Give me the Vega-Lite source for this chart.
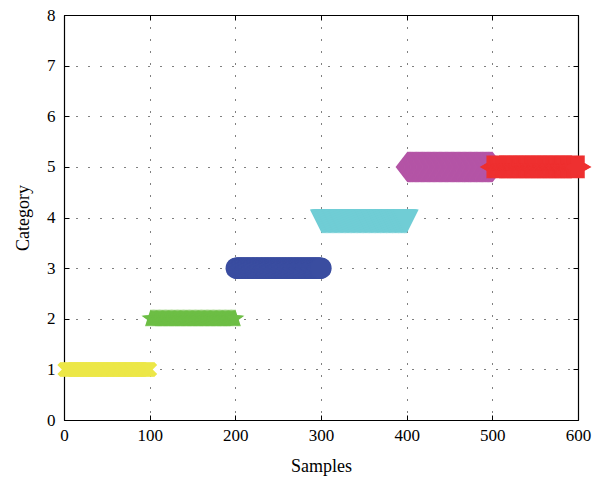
{
  "$schema": "https://vega.github.io/schema/vega-lite/v6.json",
  "width": 514,
  "height": 405,
  "autosize": {"type": "none"},
  "padding": {"left": 64, "top": 15, "right": 29, "bottom": 62},
  "background": "white",
  "config": {
    "font": "Liberation Serif",
    "view": {"stroke": null},
    "axis": {
      "labelFont": "Liberation Serif",
      "labelFontSize": 17,
      "labelColor": "black",
      "titleFont": "Liberation Serif",
      "titleFontSize": 18,
      "titleFontWeight": "normal",
      "titleColor": "black",
      "domainColor": "black",
      "domainWidth": 1.2,
      "tickColor": "black",
      "tickSize": -5,
      "gridColor": "black",
      "gridOpacity": 1,
      "gridDash": [1, 11],
      "gridWidth": 1
    }
  },
  "data": {
    "values": [
{"s":1,"c":1,"g":"A"},{"s":2,"c":1,"g":"A"},{"s":3,"c":1,"g":"A"},{"s":4,"c":1,"g":"A"},{"s":5,"c":1,"g":"A"},{"s":6,"c":1,"g":"A"},{"s":7,"c":1,"g":"A"},{"s":8,"c":1,"g":"A"},{"s":9,"c":1,"g":"A"},{"s":10,"c":1,"g":"A"},
{"s":11,"c":1,"g":"A"},{"s":12,"c":1,"g":"A"},{"s":13,"c":1,"g":"A"},{"s":14,"c":1,"g":"A"},{"s":15,"c":1,"g":"A"},{"s":16,"c":1,"g":"A"},{"s":17,"c":1,"g":"A"},{"s":18,"c":1,"g":"A"},{"s":19,"c":1,"g":"A"},{"s":20,"c":1,"g":"A"},
{"s":21,"c":1,"g":"A"},{"s":22,"c":1,"g":"A"},{"s":23,"c":1,"g":"A"},{"s":24,"c":1,"g":"A"},{"s":25,"c":1,"g":"A"},{"s":26,"c":1,"g":"A"},{"s":27,"c":1,"g":"A"},{"s":28,"c":1,"g":"A"},{"s":29,"c":1,"g":"A"},{"s":30,"c":1,"g":"A"},
{"s":31,"c":1,"g":"A"},{"s":32,"c":1,"g":"A"},{"s":33,"c":1,"g":"A"},{"s":34,"c":1,"g":"A"},{"s":35,"c":1,"g":"A"},{"s":36,"c":1,"g":"A"},{"s":37,"c":1,"g":"A"},{"s":38,"c":1,"g":"A"},{"s":39,"c":1,"g":"A"},{"s":40,"c":1,"g":"A"},
{"s":41,"c":1,"g":"A"},{"s":42,"c":1,"g":"A"},{"s":43,"c":1,"g":"A"},{"s":44,"c":1,"g":"A"},{"s":45,"c":1,"g":"A"},{"s":46,"c":1,"g":"A"},{"s":47,"c":1,"g":"A"},{"s":48,"c":1,"g":"A"},{"s":49,"c":1,"g":"A"},{"s":50,"c":1,"g":"A"},
{"s":51,"c":1,"g":"A"},{"s":52,"c":1,"g":"A"},{"s":53,"c":1,"g":"A"},{"s":54,"c":1,"g":"A"},{"s":55,"c":1,"g":"A"},{"s":56,"c":1,"g":"A"},{"s":57,"c":1,"g":"A"},{"s":58,"c":1,"g":"A"},{"s":59,"c":1,"g":"A"},{"s":60,"c":1,"g":"A"},
{"s":61,"c":1,"g":"A"},{"s":62,"c":1,"g":"A"},{"s":63,"c":1,"g":"A"},{"s":64,"c":1,"g":"A"},{"s":65,"c":1,"g":"A"},{"s":66,"c":1,"g":"A"},{"s":67,"c":1,"g":"A"},{"s":68,"c":1,"g":"A"},{"s":69,"c":1,"g":"A"},{"s":70,"c":1,"g":"A"},
{"s":71,"c":1,"g":"A"},{"s":72,"c":1,"g":"A"},{"s":73,"c":1,"g":"A"},{"s":74,"c":1,"g":"A"},{"s":75,"c":1,"g":"A"},{"s":76,"c":1,"g":"A"},{"s":77,"c":1,"g":"A"},{"s":78,"c":1,"g":"A"},{"s":79,"c":1,"g":"A"},{"s":80,"c":1,"g":"A"},
{"s":81,"c":1,"g":"A"},{"s":82,"c":1,"g":"A"},{"s":83,"c":1,"g":"A"},{"s":84,"c":1,"g":"A"},{"s":85,"c":1,"g":"A"},{"s":86,"c":1,"g":"A"},{"s":87,"c":1,"g":"A"},{"s":88,"c":1,"g":"A"},{"s":89,"c":1,"g":"A"},{"s":90,"c":1,"g":"A"},
{"s":91,"c":1,"g":"A"},{"s":92,"c":1,"g":"A"},{"s":93,"c":1,"g":"A"},{"s":94,"c":1,"g":"A"},{"s":95,"c":1,"g":"A"},{"s":96,"c":1,"g":"A"},{"s":97,"c":1,"g":"A"},{"s":98,"c":1,"g":"A"},{"s":99,"c":1,"g":"A"},{"s":100,"c":1,"g":"A"},
{"s":101,"c":2,"g":"B"},{"s":102,"c":2,"g":"B"},{"s":103,"c":2,"g":"B"},{"s":104,"c":2,"g":"B"},{"s":105,"c":2,"g":"B"},{"s":106,"c":2,"g":"B"},{"s":107,"c":2,"g":"B"},{"s":108,"c":2,"g":"B"},{"s":109,"c":2,"g":"B"},{"s":110,"c":2,"g":"B"},
{"s":111,"c":2,"g":"B"},{"s":112,"c":2,"g":"B"},{"s":113,"c":2,"g":"B"},{"s":114,"c":2,"g":"B"},{"s":115,"c":2,"g":"B"},{"s":116,"c":2,"g":"B"},{"s":117,"c":2,"g":"B"},{"s":118,"c":2,"g":"B"},{"s":119,"c":2,"g":"B"},{"s":120,"c":2,"g":"B"},
{"s":121,"c":2,"g":"B"},{"s":122,"c":2,"g":"B"},{"s":123,"c":2,"g":"B"},{"s":124,"c":2,"g":"B"},{"s":125,"c":2,"g":"B"},{"s":126,"c":2,"g":"B"},{"s":127,"c":2,"g":"B"},{"s":128,"c":2,"g":"B"},{"s":129,"c":2,"g":"B"},{"s":130,"c":2,"g":"B"},
{"s":131,"c":2,"g":"B"},{"s":132,"c":2,"g":"B"},{"s":133,"c":2,"g":"B"},{"s":134,"c":2,"g":"B"},{"s":135,"c":2,"g":"B"},{"s":136,"c":2,"g":"B"},{"s":137,"c":2,"g":"B"},{"s":138,"c":2,"g":"B"},{"s":139,"c":2,"g":"B"},{"s":140,"c":2,"g":"B"},
{"s":141,"c":2,"g":"B"},{"s":142,"c":2,"g":"B"},{"s":143,"c":2,"g":"B"},{"s":144,"c":2,"g":"B"},{"s":145,"c":2,"g":"B"},{"s":146,"c":2,"g":"B"},{"s":147,"c":2,"g":"B"},{"s":148,"c":2,"g":"B"},{"s":149,"c":2,"g":"B"},{"s":150,"c":2,"g":"B"},
{"s":151,"c":2,"g":"B"},{"s":152,"c":2,"g":"B"},{"s":153,"c":2,"g":"B"},{"s":154,"c":2,"g":"B"},{"s":155,"c":2,"g":"B"},{"s":156,"c":2,"g":"B"},{"s":157,"c":2,"g":"B"},{"s":158,"c":2,"g":"B"},{"s":159,"c":2,"g":"B"},{"s":160,"c":2,"g":"B"},
{"s":161,"c":2,"g":"B"},{"s":162,"c":2,"g":"B"},{"s":163,"c":2,"g":"B"},{"s":164,"c":2,"g":"B"},{"s":165,"c":2,"g":"B"},{"s":166,"c":2,"g":"B"},{"s":167,"c":2,"g":"B"},{"s":168,"c":2,"g":"B"},{"s":169,"c":2,"g":"B"},{"s":170,"c":2,"g":"B"},
{"s":171,"c":2,"g":"B"},{"s":172,"c":2,"g":"B"},{"s":173,"c":2,"g":"B"},{"s":174,"c":2,"g":"B"},{"s":175,"c":2,"g":"B"},{"s":176,"c":2,"g":"B"},{"s":177,"c":2,"g":"B"},{"s":178,"c":2,"g":"B"},{"s":179,"c":2,"g":"B"},{"s":180,"c":2,"g":"B"},
{"s":181,"c":2,"g":"B"},{"s":182,"c":2,"g":"B"},{"s":183,"c":2,"g":"B"},{"s":184,"c":2,"g":"B"},{"s":185,"c":2,"g":"B"},{"s":186,"c":2,"g":"B"},{"s":187,"c":2,"g":"B"},{"s":188,"c":2,"g":"B"},{"s":189,"c":2,"g":"B"},{"s":190,"c":2,"g":"B"},
{"s":191,"c":2,"g":"B"},{"s":192,"c":2,"g":"B"},{"s":193,"c":2,"g":"B"},{"s":194,"c":2,"g":"B"},{"s":195,"c":2,"g":"B"},{"s":196,"c":2,"g":"B"},{"s":197,"c":2,"g":"B"},{"s":198,"c":2,"g":"B"},{"s":199,"c":2,"g":"B"},{"s":200,"c":2,"g":"B"},
{"s":201,"c":3,"g":"C"},{"s":202,"c":3,"g":"C"},{"s":203,"c":3,"g":"C"},{"s":204,"c":3,"g":"C"},{"s":205,"c":3,"g":"C"},{"s":206,"c":3,"g":"C"},{"s":207,"c":3,"g":"C"},{"s":208,"c":3,"g":"C"},{"s":209,"c":3,"g":"C"},{"s":210,"c":3,"g":"C"},
{"s":211,"c":3,"g":"C"},{"s":212,"c":3,"g":"C"},{"s":213,"c":3,"g":"C"},{"s":214,"c":3,"g":"C"},{"s":215,"c":3,"g":"C"},{"s":216,"c":3,"g":"C"},{"s":217,"c":3,"g":"C"},{"s":218,"c":3,"g":"C"},{"s":219,"c":3,"g":"C"},{"s":220,"c":3,"g":"C"},
{"s":221,"c":3,"g":"C"},{"s":222,"c":3,"g":"C"},{"s":223,"c":3,"g":"C"},{"s":224,"c":3,"g":"C"},{"s":225,"c":3,"g":"C"},{"s":226,"c":3,"g":"C"},{"s":227,"c":3,"g":"C"},{"s":228,"c":3,"g":"C"},{"s":229,"c":3,"g":"C"},{"s":230,"c":3,"g":"C"},
{"s":231,"c":3,"g":"C"},{"s":232,"c":3,"g":"C"},{"s":233,"c":3,"g":"C"},{"s":234,"c":3,"g":"C"},{"s":235,"c":3,"g":"C"},{"s":236,"c":3,"g":"C"},{"s":237,"c":3,"g":"C"},{"s":238,"c":3,"g":"C"},{"s":239,"c":3,"g":"C"},{"s":240,"c":3,"g":"C"},
{"s":241,"c":3,"g":"C"},{"s":242,"c":3,"g":"C"},{"s":243,"c":3,"g":"C"},{"s":244,"c":3,"g":"C"},{"s":245,"c":3,"g":"C"},{"s":246,"c":3,"g":"C"},{"s":247,"c":3,"g":"C"},{"s":248,"c":3,"g":"C"},{"s":249,"c":3,"g":"C"},{"s":250,"c":3,"g":"C"},
{"s":251,"c":3,"g":"C"},{"s":252,"c":3,"g":"C"},{"s":253,"c":3,"g":"C"},{"s":254,"c":3,"g":"C"},{"s":255,"c":3,"g":"C"},{"s":256,"c":3,"g":"C"},{"s":257,"c":3,"g":"C"},{"s":258,"c":3,"g":"C"},{"s":259,"c":3,"g":"C"},{"s":260,"c":3,"g":"C"},
{"s":261,"c":3,"g":"C"},{"s":262,"c":3,"g":"C"},{"s":263,"c":3,"g":"C"},{"s":264,"c":3,"g":"C"},{"s":265,"c":3,"g":"C"},{"s":266,"c":3,"g":"C"},{"s":267,"c":3,"g":"C"},{"s":268,"c":3,"g":"C"},{"s":269,"c":3,"g":"C"},{"s":270,"c":3,"g":"C"},
{"s":271,"c":3,"g":"C"},{"s":272,"c":3,"g":"C"},{"s":273,"c":3,"g":"C"},{"s":274,"c":3,"g":"C"},{"s":275,"c":3,"g":"C"},{"s":276,"c":3,"g":"C"},{"s":277,"c":3,"g":"C"},{"s":278,"c":3,"g":"C"},{"s":279,"c":3,"g":"C"},{"s":280,"c":3,"g":"C"},
{"s":281,"c":3,"g":"C"},{"s":282,"c":3,"g":"C"},{"s":283,"c":3,"g":"C"},{"s":284,"c":3,"g":"C"},{"s":285,"c":3,"g":"C"},{"s":286,"c":3,"g":"C"},{"s":287,"c":3,"g":"C"},{"s":288,"c":3,"g":"C"},{"s":289,"c":3,"g":"C"},{"s":290,"c":3,"g":"C"},
{"s":291,"c":3,"g":"C"},{"s":292,"c":3,"g":"C"},{"s":293,"c":3,"g":"C"},{"s":294,"c":3,"g":"C"},{"s":295,"c":3,"g":"C"},{"s":296,"c":3,"g":"C"},{"s":297,"c":3,"g":"C"},{"s":298,"c":3,"g":"C"},{"s":299,"c":3,"g":"C"},{"s":300,"c":3,"g":"C"},
{"s":301,"c":4,"g":"D"},{"s":302,"c":4,"g":"D"},{"s":303,"c":4,"g":"D"},{"s":304,"c":4,"g":"D"},{"s":305,"c":4,"g":"D"},{"s":306,"c":4,"g":"D"},{"s":307,"c":4,"g":"D"},{"s":308,"c":4,"g":"D"},{"s":309,"c":4,"g":"D"},{"s":310,"c":4,"g":"D"},
{"s":311,"c":4,"g":"D"},{"s":312,"c":4,"g":"D"},{"s":313,"c":4,"g":"D"},{"s":314,"c":4,"g":"D"},{"s":315,"c":4,"g":"D"},{"s":316,"c":4,"g":"D"},{"s":317,"c":4,"g":"D"},{"s":318,"c":4,"g":"D"},{"s":319,"c":4,"g":"D"},{"s":320,"c":4,"g":"D"},
{"s":321,"c":4,"g":"D"},{"s":322,"c":4,"g":"D"},{"s":323,"c":4,"g":"D"},{"s":324,"c":4,"g":"D"},{"s":325,"c":4,"g":"D"},{"s":326,"c":4,"g":"D"},{"s":327,"c":4,"g":"D"},{"s":328,"c":4,"g":"D"},{"s":329,"c":4,"g":"D"},{"s":330,"c":4,"g":"D"},
{"s":331,"c":4,"g":"D"},{"s":332,"c":4,"g":"D"},{"s":333,"c":4,"g":"D"},{"s":334,"c":4,"g":"D"},{"s":335,"c":4,"g":"D"},{"s":336,"c":4,"g":"D"},{"s":337,"c":4,"g":"D"},{"s":338,"c":4,"g":"D"},{"s":339,"c":4,"g":"D"},{"s":340,"c":4,"g":"D"},
{"s":341,"c":4,"g":"D"},{"s":342,"c":4,"g":"D"},{"s":343,"c":4,"g":"D"},{"s":344,"c":4,"g":"D"},{"s":345,"c":4,"g":"D"},{"s":346,"c":4,"g":"D"},{"s":347,"c":4,"g":"D"},{"s":348,"c":4,"g":"D"},{"s":349,"c":4,"g":"D"},{"s":350,"c":4,"g":"D"},
{"s":351,"c":4,"g":"D"},{"s":352,"c":4,"g":"D"},{"s":353,"c":4,"g":"D"},{"s":354,"c":4,"g":"D"},{"s":355,"c":4,"g":"D"},{"s":356,"c":4,"g":"D"},{"s":357,"c":4,"g":"D"},{"s":358,"c":4,"g":"D"},{"s":359,"c":4,"g":"D"},{"s":360,"c":4,"g":"D"},
{"s":361,"c":4,"g":"D"},{"s":362,"c":4,"g":"D"},{"s":363,"c":4,"g":"D"},{"s":364,"c":4,"g":"D"},{"s":365,"c":4,"g":"D"},{"s":366,"c":4,"g":"D"},{"s":367,"c":4,"g":"D"},{"s":368,"c":4,"g":"D"},{"s":369,"c":4,"g":"D"},{"s":370,"c":4,"g":"D"},
{"s":371,"c":4,"g":"D"},{"s":372,"c":4,"g":"D"},{"s":373,"c":4,"g":"D"},{"s":374,"c":4,"g":"D"},{"s":375,"c":4,"g":"D"},{"s":376,"c":4,"g":"D"},{"s":377,"c":4,"g":"D"},{"s":378,"c":4,"g":"D"},{"s":379,"c":4,"g":"D"},{"s":380,"c":4,"g":"D"},
{"s":381,"c":4,"g":"D"},{"s":382,"c":4,"g":"D"},{"s":383,"c":4,"g":"D"},{"s":384,"c":4,"g":"D"},{"s":385,"c":4,"g":"D"},{"s":386,"c":4,"g":"D"},{"s":387,"c":4,"g":"D"},{"s":388,"c":4,"g":"D"},{"s":389,"c":4,"g":"D"},{"s":390,"c":4,"g":"D"},
{"s":391,"c":4,"g":"D"},{"s":392,"c":4,"g":"D"},{"s":393,"c":4,"g":"D"},{"s":394,"c":4,"g":"D"},{"s":395,"c":4,"g":"D"},{"s":396,"c":4,"g":"D"},{"s":397,"c":4,"g":"D"},{"s":398,"c":4,"g":"D"},{"s":399,"c":4,"g":"D"},{"s":400,"c":4,"g":"D"},
{"s":401,"c":5,"g":"E"},{"s":402,"c":5,"g":"E"},{"s":403,"c":5,"g":"E"},{"s":404,"c":5,"g":"E"},{"s":405,"c":5,"g":"E"},{"s":406,"c":5,"g":"E"},{"s":407,"c":5,"g":"E"},{"s":408,"c":5,"g":"E"},{"s":409,"c":5,"g":"E"},{"s":410,"c":5,"g":"E"},
{"s":411,"c":5,"g":"E"},{"s":412,"c":5,"g":"E"},{"s":413,"c":5,"g":"E"},{"s":414,"c":5,"g":"E"},{"s":415,"c":5,"g":"E"},{"s":416,"c":5,"g":"E"},{"s":417,"c":5,"g":"E"},{"s":418,"c":5,"g":"E"},{"s":419,"c":5,"g":"E"},{"s":420,"c":5,"g":"E"},
{"s":421,"c":5,"g":"E"},{"s":422,"c":5,"g":"E"},{"s":423,"c":5,"g":"E"},{"s":424,"c":5,"g":"E"},{"s":425,"c":5,"g":"E"},{"s":426,"c":5,"g":"E"},{"s":427,"c":5,"g":"E"},{"s":428,"c":5,"g":"E"},{"s":429,"c":5,"g":"E"},{"s":430,"c":5,"g":"E"},
{"s":431,"c":5,"g":"E"},{"s":432,"c":5,"g":"E"},{"s":433,"c":5,"g":"E"},{"s":434,"c":5,"g":"E"},{"s":435,"c":5,"g":"E"},{"s":436,"c":5,"g":"E"},{"s":437,"c":5,"g":"E"},{"s":438,"c":5,"g":"E"},{"s":439,"c":5,"g":"E"},{"s":440,"c":5,"g":"E"},
{"s":441,"c":5,"g":"E"},{"s":442,"c":5,"g":"E"},{"s":443,"c":5,"g":"E"},{"s":444,"c":5,"g":"E"},{"s":445,"c":5,"g":"E"},{"s":446,"c":5,"g":"E"},{"s":447,"c":5,"g":"E"},{"s":448,"c":5,"g":"E"},{"s":449,"c":5,"g":"E"},{"s":450,"c":5,"g":"E"},
{"s":451,"c":5,"g":"E"},{"s":452,"c":5,"g":"E"},{"s":453,"c":5,"g":"E"},{"s":454,"c":5,"g":"E"},{"s":455,"c":5,"g":"E"},{"s":456,"c":5,"g":"E"},{"s":457,"c":5,"g":"E"},{"s":458,"c":5,"g":"E"},{"s":459,"c":5,"g":"E"},{"s":460,"c":5,"g":"E"},
{"s":461,"c":5,"g":"E"},{"s":462,"c":5,"g":"E"},{"s":463,"c":5,"g":"E"},{"s":464,"c":5,"g":"E"},{"s":465,"c":5,"g":"E"},{"s":466,"c":5,"g":"E"},{"s":467,"c":5,"g":"E"},{"s":468,"c":5,"g":"E"},{"s":469,"c":5,"g":"E"},{"s":470,"c":5,"g":"E"},
{"s":471,"c":5,"g":"E"},{"s":472,"c":5,"g":"E"},{"s":473,"c":5,"g":"E"},{"s":474,"c":5,"g":"E"},{"s":475,"c":5,"g":"E"},{"s":476,"c":5,"g":"E"},{"s":477,"c":5,"g":"E"},{"s":478,"c":5,"g":"E"},{"s":479,"c":5,"g":"E"},{"s":480,"c":5,"g":"E"},
{"s":481,"c":5,"g":"E"},{"s":482,"c":5,"g":"E"},{"s":483,"c":5,"g":"E"},{"s":484,"c":5,"g":"E"},{"s":485,"c":5,"g":"E"},{"s":486,"c":5,"g":"E"},{"s":487,"c":5,"g":"E"},{"s":488,"c":5,"g":"E"},{"s":489,"c":5,"g":"E"},{"s":490,"c":5,"g":"E"},
{"s":491,"c":5,"g":"E"},{"s":492,"c":5,"g":"E"},{"s":493,"c":5,"g":"E"},{"s":494,"c":5,"g":"E"},{"s":495,"c":5,"g":"E"},{"s":496,"c":5,"g":"E"},{"s":497,"c":5,"g":"E"},{"s":498,"c":5,"g":"E"},{"s":499,"c":5,"g":"E"},{"s":500,"c":5,"g":"E"},
{"s":501,"c":5,"g":"F"},{"s":502,"c":5,"g":"F"},{"s":503,"c":5,"g":"F"},{"s":504,"c":5,"g":"F"},{"s":505,"c":5,"g":"F"},{"s":506,"c":5,"g":"F"},{"s":507,"c":5,"g":"F"},{"s":508,"c":5,"g":"F"},{"s":509,"c":5,"g":"F"},{"s":510,"c":5,"g":"F"},
{"s":511,"c":5,"g":"F"},{"s":512,"c":5,"g":"F"},{"s":513,"c":5,"g":"F"},{"s":514,"c":5,"g":"F"},{"s":515,"c":5,"g":"F"},{"s":516,"c":5,"g":"F"},{"s":517,"c":5,"g":"F"},{"s":518,"c":5,"g":"F"},{"s":519,"c":5,"g":"F"},{"s":520,"c":5,"g":"F"},
{"s":521,"c":5,"g":"F"},{"s":522,"c":5,"g":"F"},{"s":523,"c":5,"g":"F"},{"s":524,"c":5,"g":"F"},{"s":525,"c":5,"g":"F"},{"s":526,"c":5,"g":"F"},{"s":527,"c":5,"g":"F"},{"s":528,"c":5,"g":"F"},{"s":529,"c":5,"g":"F"},{"s":530,"c":5,"g":"F"},
{"s":531,"c":5,"g":"F"},{"s":532,"c":5,"g":"F"},{"s":533,"c":5,"g":"F"},{"s":534,"c":5,"g":"F"},{"s":535,"c":5,"g":"F"},{"s":536,"c":5,"g":"F"},{"s":537,"c":5,"g":"F"},{"s":538,"c":5,"g":"F"},{"s":539,"c":5,"g":"F"},{"s":540,"c":5,"g":"F"},
{"s":541,"c":5,"g":"F"},{"s":542,"c":5,"g":"F"},{"s":543,"c":5,"g":"F"},{"s":544,"c":5,"g":"F"},{"s":545,"c":5,"g":"F"},{"s":546,"c":5,"g":"F"},{"s":547,"c":5,"g":"F"},{"s":548,"c":5,"g":"F"},{"s":549,"c":5,"g":"F"},{"s":550,"c":5,"g":"F"},
{"s":551,"c":5,"g":"F"},{"s":552,"c":5,"g":"F"},{"s":553,"c":5,"g":"F"},{"s":554,"c":5,"g":"F"},{"s":555,"c":5,"g":"F"},{"s":556,"c":5,"g":"F"},{"s":557,"c":5,"g":"F"},{"s":558,"c":5,"g":"F"},{"s":559,"c":5,"g":"F"},{"s":560,"c":5,"g":"F"},
{"s":561,"c":5,"g":"F"},{"s":562,"c":5,"g":"F"},{"s":563,"c":5,"g":"F"},{"s":564,"c":5,"g":"F"},{"s":565,"c":5,"g":"F"},{"s":566,"c":5,"g":"F"},{"s":567,"c":5,"g":"F"},{"s":568,"c":5,"g":"F"},{"s":569,"c":5,"g":"F"},{"s":570,"c":5,"g":"F"},
{"s":571,"c":5,"g":"F"},{"s":572,"c":5,"g":"F"},{"s":573,"c":5,"g":"F"},{"s":574,"c":5,"g":"F"},{"s":575,"c":5,"g":"F"},{"s":576,"c":5,"g":"F"},{"s":577,"c":5,"g":"F"},{"s":578,"c":5,"g":"F"},{"s":579,"c":5,"g":"F"},{"s":580,"c":5,"g":"F"},
{"s":581,"c":5,"g":"F"},{"s":582,"c":5,"g":"F"},{"s":583,"c":5,"g":"F"},{"s":584,"c":5,"g":"F"},{"s":585,"c":5,"g":"F"},{"s":586,"c":5,"g":"F"},{"s":587,"c":5,"g":"F"},{"s":588,"c":5,"g":"F"},{"s":589,"c":5,"g":"F"},{"s":590,"c":5,"g":"F"},
{"s":591,"c":5,"g":"F"},{"s":592,"c":5,"g":"F"},{"s":593,"c":5,"g":"F"},{"s":594,"c":5,"g":"F"},{"s":595,"c":5,"g":"F"},{"s":596,"c":5,"g":"F"},{"s":597,"c":5,"g":"F"},{"s":598,"c":5,"g":"F"},{"s":599,"c":5,"g":"F"},{"s":600,"c":5,"g":"F"}
    ]
  },
  "encoding": {
    "x": {
      "field": "s", "type": "quantitative",
      "scale": {"domain": [0, 600], "nice": false, "zero": false},
      "axis": {"orient": "bottom", "values": [0,100,200,300,400,500,600], "title": "Samples", "grid": true, "labelPadding": 12, "titlePadding": 14, "labelFlush": false}
    },
    "y": {
      "field": "c", "type": "quantitative",
      "scale": {"domain": [0, 8], "nice": false, "zero": false},
      "axis": {"orient": "left", "values": [0,1,2,3,4,5,6,7,8], "title": "Category", "grid": true, "labelPadding": 14, "titlePadding": 14, "labelFlush": false}
    }
  },
  "layer": [
    {
      "layer": [
        {
          "transform": [{"filter": "datum.g === 'A'"}],
          "mark": {"type": "point", "filled": true, "opacity": 1, "strokeWidth": 0, "clip": false, "color": "#ECE748", "size": 225,
            "shape": "M-1,-0.6L-0.6,-1L0,-0.4L0.6,-1L1,-0.6L0.4,0L1,0.6L0.6,1L0,0.4L-0.6,1L-1,0.6L-0.4,0Z"}
        },
        {
          "transform": [{"filter": "datum.g === 'B'"}],
          "mark": {"type": "point", "filled": true, "opacity": 1, "strokeWidth": 0, "clip": false, "color": "#6DBE45", "size": 361,
            "shape": "M0,-1L0.225,-0.309L0.951,-0.309L0.363,0.118L0.588,0.809L0,0.382L-0.588,0.809L-0.363,0.118L-0.951,-0.309L-0.225,-0.309Z"}
        },
        {
          "transform": [{"filter": "datum.g === 'C'"}],
          "mark": {"type": "point", "filled": true, "opacity": 1, "strokeWidth": 0, "clip": false, "color": "#3A4DA0", "size": 452, "shape": "circle"}
        },
        {
          "transform": [{"filter": "datum.g === 'D'"}],
          "mark": {"type": "point", "filled": true, "opacity": 1, "strokeWidth": 0, "clip": false, "color": "#70CDD5", "size": 576,
            "shape": "M-1,-0.667L1,-0.667L0,1.333Z"}
        },
        {
          "transform": [{"filter": "datum.g === 'E'"}],
          "mark": {"type": "point", "filled": true, "opacity": 1, "strokeWidth": 0, "clip": false, "color": "#B455A6", "size": 961,
            "shape": "M-0.77,0L0,-1L0.77,0L0,1Z"}
        },
        {
          "transform": [{"filter": "datum.g === 'F'"}],
          "mark": {"type": "point", "filled": true, "opacity": 1, "strokeWidth": 0, "clip": false, "color": "#EE3030", "size": 729,
            "shape": "M1,0L0.5,-0.289L0.5,-0.866L0,-0.577L-0.5,-0.866L-0.5,-0.289L-1,0L-0.5,0.289L-0.5,0.866L0,0.577L0.5,0.866L0.5,0.289Z"}
        }
      ]
    },
    {
      "mark": {"type": "point", "opacity": 0},
      "encoding": {
        "x": {
          "field": "s", "type": "quantitative",
          "axis": {"orient": "top", "values": [0,100,200,300,400,500,600], "labels": false, "title": null, "grid": false}
        },
        "y": {
          "field": "c", "type": "quantitative",
          "axis": {"orient": "right", "values": [0,1,2,3,4,5,6,7,8], "labels": false, "title": null, "grid": false}
        }
      }
    }
  ]
}
